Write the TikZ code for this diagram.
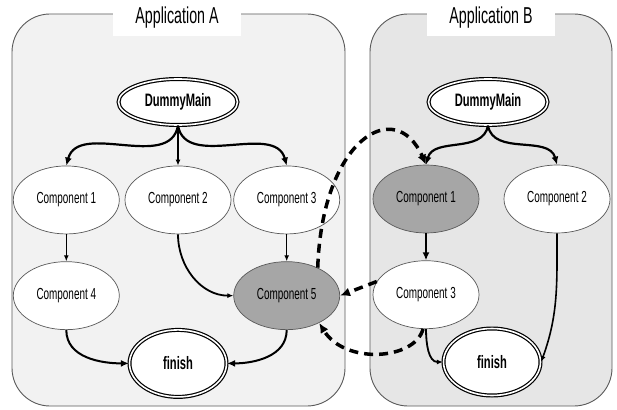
\documentclass[tikz,border=0pt]{standalone}
\usepackage{fontspec}
\newfontfamily\narrowfont[FakeStretch=0.62]{Liberation Sans}
\usepackage{xcolor}
\usetikzlibrary{shapes,arrows.meta,positioning}
\definecolor{appAfill}{HTML}{F2F2F2}
\definecolor{appBfill}{HTML}{E6E6E6}
\definecolor{hotfill}{HTML}{A6A6A6}
\definecolor{rim}{HTML}{595959}

\begin{document}
\begin{tikzpicture}[
    x=1pt, y=-1pt,
    app/.style={draw=rim, line width=0.9pt, rounded corners=38pt},
    title/.style={fill=white, inner sep=0pt, minimum width=128pt, minimum height=36pt, font=\narrowfont\fontsize{23}{26}\selectfont},
    comp/.style={ellipse, draw=rim, line width=0.7pt, fill=white, inner sep=0pt, minimum width=106pt, minimum height=68pt, font=\narrowfont\fontsize{16}{18}\selectfont},
    hot/.style={comp, fill=hotfill},
    term/.style={ellipse, draw, double, double distance=1.6pt, line width=1.2pt, fill=white, inner sep=0pt, font=\narrowfont\bfseries\fontsize{18}{20}\selectfont},
    arrow/.style={-{Latex[length=6pt,width=5pt]}, line width=1.2pt},
    thickarrow/.style={-{Latex[length=8pt,width=7pt]}, line width=2.2pt},
    call/.style={-{Latex[length=10pt,width=9pt]}, line width=3.5pt, dash pattern=on 9pt off 6pt}
]
\useasboundingbox (0,0) rectangle (617,409);

% the two applications
\draw[app, fill=appAfill] (12,14) rectangle (345,406);
\draw[app, fill=appBfill] (370,14) rectangle (612,406);
\node[title] (titleA) at (177,18) {Application A};
\node[title] (titleB) at (491,18) {Application B};

% application A
\node[term, minimum width=119pt, minimum height=46pt] (dmA) at (178,102) {DummyMain};
\node[comp, below=40pt of dmA] (c2A) {Component 2};
\node[comp, left=5pt of c2A] (c1A) {Component 1};
\node[comp, right=2pt of c2A] (c3A) {Component 3};
\node[comp, below=27pt of c1A] (c4A) {Component 4};
\node[hot, below=27pt of c3A] (c5A) {Component 5};
\node[term, minimum width=97pt, minimum height=67pt, below=95pt of c2A] (finA) {finish};

% application B
\node[term, minimum width=119pt, minimum height=46pt] (dmB) at (488,102) {DummyMain};
\node[hot] (c1B) at (426,199) {Component 1};
\node[comp] (c2B) at (557,199) {Component 2};
\node[comp, below=27pt of c1B] (c3B) {Component 3};
\node[term, minimum width=97pt, minimum height=67pt] (finB) at (492,362) {finish};

\draw[thickarrow] (dmA.south) to[out=-100,in=75] (c1A.north);
\draw[arrow, line width=1.6pt] (dmA) -- (c2A);
\draw[thickarrow] (dmA.south) to[out=-80,in=105] (c3A.north);
\draw[arrow] (c1A) -- (c4A);
\draw[arrow] (c3A) -- (c5A);
\draw[arrow, line width=1.8pt] (c2A.south) to[out=-90,in=180] (c5A.west);
\draw[thickarrow, line width=2pt] (c4A.south) to[out=-90,in=180] (finA.west);
\draw[thickarrow, line width=2pt] (c5A.south) to[out=-90,in=0] (finA.east);

\draw[thickarrow] (dmB.south) to[out=-100,in=75] (c1B.north);
\draw[thickarrow] (dmB.south) to[out=-80,in=105] (c2B.north);
\draw[thickarrow, line width=2pt] (c1B) -- (c3B);
\draw[arrow, line width=1.6pt] (c2B.south) to[out=-90,in=70] (finB.east);
\draw[arrow, line width=1.8pt] (c3B.south) to[out=-90,in=180] (finB.west);

% calls between the applications
\draw[call] (c5A.42) .. controls (322,140) and (395,95) .. (c1B.north);
\draw[call] (c3B.165) -- (c5A.east);
\draw[call] (c3B.265) .. controls (415,360) and (345,365) .. (c5A.-40);
\end{tikzpicture}
\end{document}
